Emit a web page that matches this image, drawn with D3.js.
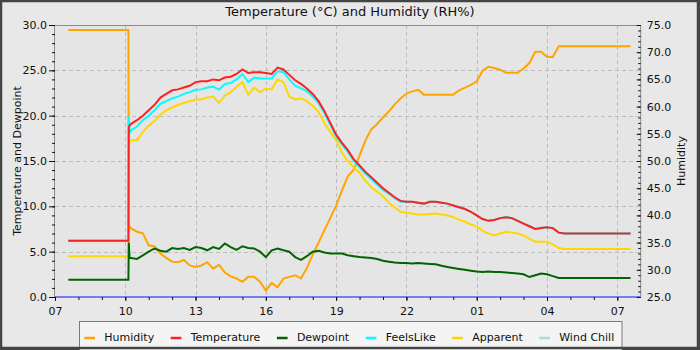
<!DOCTYPE html>
<html>
<head>
<meta charset="utf-8">
<script src="https://cdn.jsdelivr.net/npm/d3@7"></script>
<style>
  html, body { margin: 0; padding: 0; background: #e8e8e8; }
  svg { display: block; font-family: "DejaVu Sans", sans-serif; }
</style>
</head>
<body>
<svg id="chart" width="700" height="350"></svg>
<script>
// Sample times (HH:MM); readings after midnight belong to the next day.
const times = [
  "07:34","10:08","10:09","10:11",
  "10:15","10:30","10:45",
  "11:00","11:15","11:30","11:45",
  "12:00","12:15","12:30","12:45",
  "13:00","13:15","13:30","13:45",
  "14:00","14:15","14:30","14:45",
  "15:00","15:15","15:30","15:45",
  "16:00","16:15","16:30","16:45",
  "17:00","17:15","17:30","17:45",
  "18:00","18:15","18:30","18:45",
  "19:00","19:15","19:30","19:45",
  "20:00","20:15","20:30","20:45",
  "21:00","21:15","21:30","21:45",
  "22:00","22:15","22:30","22:45",
  "23:00","23:15","23:30","23:45",
  "00:00","00:15","00:30","00:45",
  "01:00","01:15","01:30","01:45",
  "02:00","02:15","02:30","02:45",
  "03:00","03:15","03:30","03:45",
  "04:00","04:15","04:30","04:45",
  "07:34"
];

// Relative humidity (%), right axis
const humidity = [
  74.1,74.1,38.2,38.0,
  37.6,37.0,36.7,
  34.5,34.3,33.0,32.2,
  31.5,31.4,31.8,30.8,
  30.5,30.8,31.4,30.2,
  30.9,29.5,28.8,28.4,
  27.8,28.7,28.7,27.8,
  26.2,27.6,26.8,28.4,
  28.7,29.0,28.4,30.3,
  32.8,35.0,37.3,39.5,
  41.8,44.6,47.2,48.4,
  51.0,53.8,55.8,56.8,
  58.0,59.1,60.4,61.5,
  62.4,62.8,63.1,62.2,
  62.2,62.2,62.2,62.2,
  62.2,63.0,63.5,64.0,
  64.6,66.6,67.3,67.1,
  66.8,66.2,66.2,66.2,
  67.0,68.0,70.1,70.1,
  69.1,69.1,71.1,71.1,
  71.1
];

// Temperature (°C), left axis
const temperature = [
  6.2,6.2,18.7,18.9,
  19.1,19.5,20.0,
  20.6,21.2,22.0,22.4,
  22.8,22.9,23.1,23.3,
  23.7,23.8,23.8,24.0,
  23.9,24.2,24.3,24.6,
  25.1,24.7,24.8,24.8,
  24.7,24.6,25.3,25.1,
  24.5,23.9,23.5,23.0,
  22.4,21.6,20.5,19.2,
  17.9,17.0,16.2,15.2,
  14.5,13.8,13.2,12.6,
  12.0,11.5,11.0,10.6,
  10.5,10.5,10.4,10.3,
  10.5,10.5,10.4,10.3,
  10.1,9.9,9.7,9.4,
  9.0,8.6,8.4,8.5,
  8.7,8.8,8.7,8.4,
  8.1,7.8,7.5,7.6,
  7.7,7.6,7.1,7.0,
  7.0
];

// Dewpoint (°C)
const dewpoint = [
  1.9,1.9,6.0,4.3,
  4.3,4.2,4.6,
  5.0,5.35,5.1,5.0,
  5.4,5.3,5.4,5.2,
  5.5,5.4,5.15,5.5,
  5.3,5.9,5.5,5.2,
  5.6,5.4,5.35,5.0,
  4.4,5.15,5.35,5.15,
  5.0,4.4,4.1,4.5,
  5.0,5.1,4.9,4.8,
  4.8,4.8,4.6,4.5,
  4.4,4.35,4.3,4.2,
  4.0,3.9,3.8,3.75,
  3.75,3.7,3.75,3.7,
  3.65,3.6,3.45,3.3,
  3.2,3.1,3.0,2.9,
  2.8,2.75,2.8,2.75,
  2.75,2.7,2.65,2.6,
  2.5,2.2,2.4,2.6,
  2.5,2.3,2.1,2.1,
  2.1
];

// Feels-like temperature (°C)
const feelsLike = [
  6.2,6.2,19.9,18.1,
  18.4,18.8,19.5,
  20.0,20.6,21.3,21.6,
  21.9,22.1,22.4,22.6,
  22.85,22.9,23.1,23.2,
  22.85,23.5,23.6,24.0,
  24.6,23.7,24.2,24.1,
  24.1,24.1,24.9,24.8,
  24.0,23.3,23.0,22.7,
  22.1,21.4,20.3,19.0,
  17.7,16.8,16.0,15.0,
  14.3,13.6,13.0,12.4,
  11.8,11.4,10.9,10.5,
  10.5,10.5,10.4,10.3,
  10.5,10.5,10.4,10.3,
  10.1,9.9,9.7,9.4,
  9.0,8.6,8.4,8.5,
  8.7,8.8,8.7,8.4,
  8.1,7.8,7.5,7.6,
  7.7,7.6,7.1,7.0,
  7.0
];

// Apparent temperature (°C)
const apparent = [
  4.5,4.5,16.6,17.2,
  17.3,17.3,18.2,
  18.9,19.4,20.1,20.6,
  20.9,21.2,21.4,21.6,
  21.75,21.8,22.0,22.1,
  21.4,22.2,22.6,23.2,
  23.7,22.3,23.1,22.6,
  23.0,22.9,24.0,23.7,
  22.1,21.8,21.9,21.6,
  21.1,20.4,19.2,18.2,
  17.3,15.9,15.0,14.3,
  13.7,12.8,12.1,11.6,
  11.1,10.4,9.9,9.4,
  9.3,9.2,9.1,9.1,
  9.15,9.2,9.1,9.0,
  8.8,8.5,8.3,8.0,
  7.8,7.3,7.0,6.8,
  7.0,7.2,7.1,7.0,
  6.8,6.4,6.1,6.1,
  6.1,5.8,5.4,5.3,
  5.3
];

const xTickLabels = ["07","10","13","16","19","22","01","04","07"];
const leftTicks = [0, 5, 10, 15, 20, 25, 30];
const rightTicks = [25, 30, 35, 40, 45, 50, 55, 60, 65, 70, 75];
const legendNames = ["Humidity", "Temperature", "Dewpoint", "FeelsLike", "Apparent", "Wind Chill"];
const legendColors = ["#ffa500", "#ff2020", "#006400", "#00ffff", "#ffd700", "#add8e6"];

// ---- time parsing ----
let dayOffset = 0, prevMin = -1;
const dates = times.map(s => {
  const [h, m] = s.split(":").map(Number);
  const mins = h * 60 + m;
  if (mins < prevMin) dayOffset++;
  prevMin = mins;
  return new Date(2000, 0, 1 + dayOffset, h, m);
});

const W = 700, H = 350;
const L = 55, T = 25, R = 640.7, B = 297;

const x = d3.scaleTime()
  .domain([new Date(2000, 0, 1, 7), new Date(2000, 0, 2, 8)])
  .range([L, R]);
const yL = d3.scaleLinear().domain([0, 30]).range([B, T]);
const yR = d3.scaleLinear().domain([25, 75]).range([B, T]);

const svg = d3.select("#chart");

// frame + background
svg.append("rect").attr("width", W).attr("height", H).attr("fill", "#444");
svg.append("rect").attr("x", 2).attr("y", 2).attr("width", W - 5).attr("height", H - 5).attr("fill", "#e8e8e8");
svg.append("rect").attr("x", L).attr("y", T).attr("width", R - L).attr("height", B - T).attr("fill", "#e5e5e5");

// title
svg.append("text").attr("x", 350).attr("y", 16).attr("text-anchor", "middle")
  .attr("font-size", 13).attr("fill", "#111")
  .text("Temperature (°C) and Humidity (RH%)");

// grid
const xMajor = xTickLabels.map((_, i) => new Date(2000, 0, 1, 7 + 3 * i));
const grid = svg.append("g").attr("stroke", "#bdbdbd").attr("stroke-width", 1).attr("stroke-dasharray", "4,3");
grid.selectAll("line.v").data(xMajor.slice(1)).join("line")
  .attr("x1", d => Math.round(x(d)) + 0.5).attr("x2", d => Math.round(x(d)) + 0.5)
  .attr("y1", T).attr("y2", B);
grid.selectAll("line.h").data(leftTicks.slice(1, -1)).join("line")
  .attr("x1", L).attr("x2", R)
  .attr("y1", d => Math.round(yL(d)) + 0.5).attr("y2", d => Math.round(yL(d)) + 0.5);

// series
const clip = svg.append("clipPath").attr("id", "plotclip");
clip.append("rect").attr("x", L).attr("y", T).attr("width", R - L).attr("height", B - T);
const plot = svg.append("g").attr("clip-path", "url(#plotclip)");

function drawSeries(values, scale, color) {
  const line = d3.line().x((d, i) => x(dates[i])).y(d => scale(d));
  plot.append("path").datum(values)
    .attr("d", line)
    .attr("fill", "none")
    .attr("stroke", color)
    .attr("stroke-width", 2)
    .attr("stroke-linejoin", "miter");
}
drawSeries(humidity, yR, legendColors[0]);
drawSeries(feelsLike, yL, legendColors[3]);
drawSeries(apparent, yL, legendColors[4]);
drawSeries(dewpoint, yL, legendColors[2]);
drawSeries(temperature, yL, legendColors[1]);

// plot border
const fr = svg.append("g").attr("stroke", "#8c8c8c").attr("stroke-width", 1);
fr.append("line").attr("x1", L).attr("x2", R).attr("y1", T + 0.5).attr("y2", T + 0.5);
fr.append("line").attr("x1", L - 0.5).attr("x2", L - 0.5).attr("y1", T).attr("y2", B);
fr.append("line").attr("x1", R).attr("x2", R).attr("y1", T).attr("y2", B);
svg.append("line").attr("x1", L).attr("x2", R).attr("y1", B).attr("y2", B)
  .attr("stroke", "#7b7bef").attr("stroke-width", 2);

// axes
function styleAxis(g) {
  g.select(".domain").remove();
  g.selectAll(".tick line").attr("stroke", "#111");
  g.selectAll(".tick text").attr("font-size", 11).attr("fill", "#111")
    .attr("font-family", "DejaVu Sans, sans-serif");
}

svg.append("g").attr("transform", `translate(0,${B})`)
  .call(d3.axisBottom(x).tickValues(xMajor).tickFormat((d, i) => xTickLabels[i]).tickSize(4).tickPadding(6))
  .call(styleAxis);
svg.append("g").attr("transform", `translate(0,${B})`)
  .call(d3.axisBottom(x).tickValues(d3.range(7, 32).map(h => new Date(2000, 0, 1, h))).tickFormat("").tickSize(3))
  .call(styleAxis);

svg.append("g").attr("transform", `translate(${L},0)`)
  .call(d3.axisLeft(yL).tickValues(leftTicks).tickFormat(d3.format(".1f")).tickSize(6).tickPadding(2))
  .call(styleAxis);
svg.append("g").attr("transform", `translate(${L},0)`)
  .call(d3.axisLeft(yL).tickValues(d3.range(0, 31)).tickFormat("").tickSize(3))
  .call(styleAxis);

svg.append("g").attr("transform", `translate(${R},0)`)
  .call(d3.axisRight(yR).tickValues(rightTicks).tickFormat(d3.format(".1f")).tickSize(-4).tickPadding(6))
  .call(styleAxis);
svg.append("g").attr("transform", `translate(${R},0)`)
  .call(d3.axisRight(yR).tickValues(d3.range(25, 76)).tickFormat("").tickSize(-2.5))
  .call(styleAxis);

// axis titles
svg.append("text").attr("transform", `translate(21,${(T + B) / 2}) rotate(-90)`)
  .attr("text-anchor", "middle").attr("font-size", 11).attr("fill", "#111")
  .text("Temperature and Dewpoint");
svg.append("text").attr("transform", `translate(685,${(T + B) / 2}) rotate(-90)`)
  .attr("text-anchor", "middle").attr("font-size", 11).attr("fill", "#111")
  .text("Humidity");

// legend
svg.append("rect").attr("x", 79.5).attr("y", 321.5).attr("width", 542.5).attr("height", 30)
  .attr("fill", "#f4f4f4").attr("stroke", "#7a7a7a");
const leg = svg.append("g");
let lx = 84.3;
legendNames.forEach((name, i) => {
  leg.append("line").attr("x1", lx).attr("x2", lx + 10.7).attr("y1", 338).attr("y2", 338)
    .attr("stroke", legendColors[i]).attr("stroke-width", 2.5);
  const t = leg.append("text").attr("x", lx + 20).attr("y", 340.5)
    .attr("font-size", 11).attr("fill", "#111").text(name);
  lx += 20 + t.node().getComputedTextLength() + 16.5;
});

// outer border drawn last so it overlays the legend edge
svg.append("rect").attr("x", 1).attr("y", 1).attr("width", W - 3).attr("height", H - 3)
  .attr("fill", "none").attr("stroke", "#444").attr("stroke-width", 2.5);
</script>
</body>
</html>
